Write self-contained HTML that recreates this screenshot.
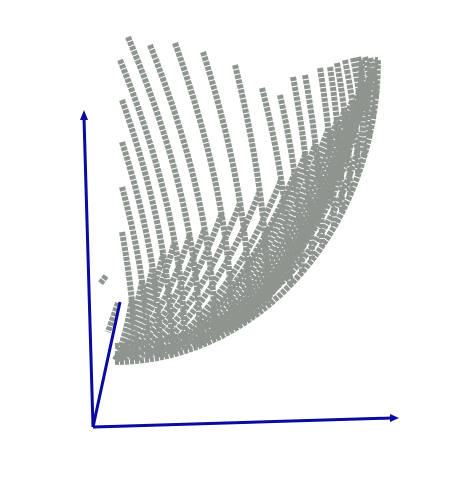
<!DOCTYPE html>
<html><head><meta charset="utf-8"><style>
html,body{margin:0;padding:0;background:#fff;width:468px;height:477px;overflow:hidden}
</style></head><body>
<svg id="chart" width="468" height="477" viewBox="0 0 468 477" xmlns="http://www.w3.org/2000/svg">
<g id="pts"></g>
<g stroke="#0a0aa0" stroke-width="3" fill="#0a0aa0">
<line x1="93" y1="427" x2="84" y2="118"/>
<polygon points="80,120 84,110 88,120" stroke="none"/>
<line x1="93" y1="427" x2="392" y2="418"/>
<polygon points="390,414 399,418 390,422" stroke="none"/>
<line x1="93" y1="427" x2="120" y2="302"/>
</g>
</svg>
<script>
const ribTopX = [122,122,122,122,120,128,150,175,203,235,262,280,293,305,320,330,337,345,353,358,365,370,375];
const ribTopY = [232,187,142,100,60,37,45,43,52,65,88,95,77,75,68,67,63,60,58,57,57,58,60];
const ribEndX = [135,148,160,172,185,200,215,232,250,268,290,302,312,322,334,342,350,358,364,369,373,376,378];
const crossU  = [0.5,0.52,0.56,0.58,0.6,0.62,0.6,0.57,0.54,0.5,0.44,0.42,0.4,0.38,0.36,0.35,0.34,0.33,0.32,0.32,0.32,0.32,0.32];
const crossStartX = [114,115,116,117,118,120,124,130,137,145,155,162,170,178,188,195,203,212,220,228,236,244,252];
const bandInset = [0,8,16];
const g=document.getElementById('pts');
const NS='http://www.w3.org/2000/svg';
function env(t,ins){ins=ins||0;return [115+(263-ins)*Math.sin(t),60+(302-ins)*Math.cos(t)];}
function envAtX(x){const t=Math.asin(Math.max(0,Math.min(1,(x-115)/263)));return env(t);}
function addPath(d,name,w){
  const p=document.createElementNS(NS,'path');
  p.setAttribute('d',d);
  p.setAttribute('fill','none');p.setAttribute('stroke','#8e958f');
  p.setAttribute('stroke-width',w||'6');p.setAttribute('stroke-dasharray','4 1');
  
  
  g.appendChild(p);
}
function q(p0,c,p1,u){const a=(1-u)*(1-u),b=2*u*(1-u),d=u*u;return [a*p0[0]+b*c[0]+d*p1[0],a*p0[1]+b*c[1]+d*p1[1]];}
for(let k=0;k<bandInset.length;k++){
  let s='';
  for(let m=0;m<=30;m++){const [x,y]=env(m/30*Math.PI/2,bandInset[k]);s+=(m?'L':'M')+x.toFixed(1)+','+y.toFixed(1);}
  addPath(s,'envelope-band');
}
for(let i=0;i<ribTopX.length;i++){
  const B=envAtX(ribEndX[i]);
  const T=[ribTopX[i],ribTopY[i]];
  const C=[B[0],T[1]+(B[1]-T[1])*0.55];
  addPath(`M${T[0]},${T[1]} Q${C[0]},${C[1]} ${B[0].toFixed(1)},${B[1].toFixed(1)}`,'rib-arc');
  const P=q(T,C,B,crossU[i]);
  const S=envAtX(crossStartX[i]);
  S[1]-=2;
  const dx=P[0]-S[0], dy=S[1]-P[1];
  const Q=[S[0]+0.6*dx,S[1]-0.3*dy];
  addPath(`M${S[0].toFixed(1)},${S[1].toFixed(1)} Q${Q[0].toFixed(1)},${Q[1].toFixed(1)} ${P[0].toFixed(1)},${P[1].toFixed(1)}`,'cross-arc');
}
addPath('M106,276 L100,284','stray-points');
addPath('M118,303 L108,332','stray-points-2');
</script>
</body></html>
